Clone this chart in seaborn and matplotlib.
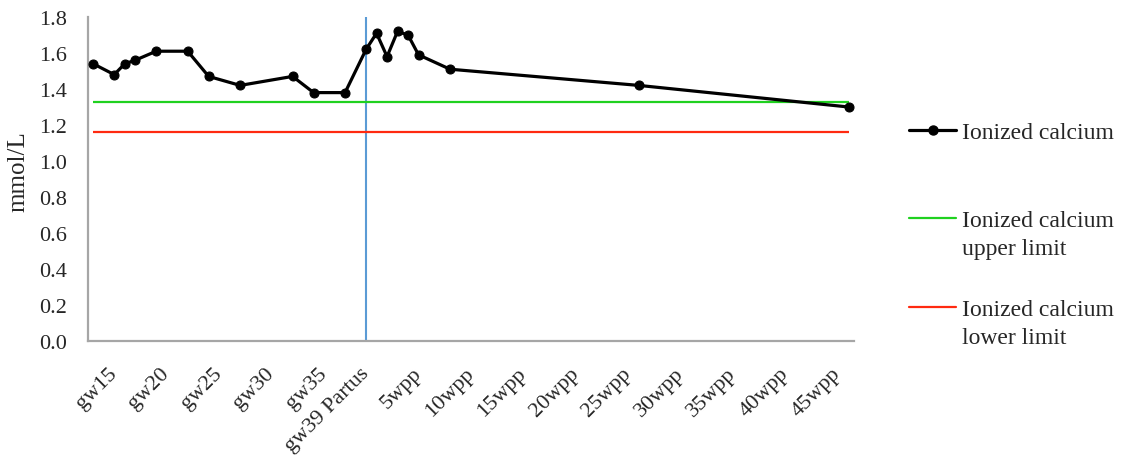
import matplotlib
matplotlib.use("Agg")
import matplotlib.pyplot as plt
import pandas as pd
import seaborn as sns
from matplotlib.lines import Line2D
from matplotlib.text import Annotation

# Timeline in weeks: gestational week during pregnancy, 39 + weeks post partum after birth
week = [13, 15, 16, 17, 19, 22, 24, 27, 32, 34, 37, 39, 40, 41, 42, 43, 44, 47, 65, 85]
ionized_ca = [1.54, 1.48, 1.54, 1.56, 1.61, 1.61, 1.47, 1.42, 1.47, 1.38, 1.38,
              1.62, 1.71, 1.58, 1.72, 1.70, 1.59, 1.51, 1.42, 1.30]
upper_limit = 1.33
lower_limit = 1.16
partus_week = 39

tick_weeks = [15, 20, 25, 30, 35, 39, 44, 49, 54, 59, 64, 69, 74, 79, 84]
tick_labels = ["gw15", "gw20", "gw25", "gw30", "gw35", "gw39 Partus", "5wpp", "10wpp",
               "15wpp", "20wpp", "25wpp", "30wpp", "35wpp", "40wpp", "45wpp"]
y_ticks = [0.0, 0.2, 0.4, 0.6, 0.8, 1.0, 1.2, 1.4, 1.6, 1.8]

series_label = "Ionized calcium"
upper_label = ("Ionized calcium", "upper limit")
lower_label = ("Ionized calcium", "lower limit")

CA_COLOR = "black"
UPPER_COLOR = "#1fd11f"
LOWER_COLOR = "#ff2a10"
PARTUS_COLOR = "#5b9bd5"
SPINE_COLOR = "#a6a6a6"

sns.set_theme(style="white")
plt.rcParams["font.family"] = ["Liberation Serif", "DejaVu Serif"]
FS = 16
LEG_FS = 17

df = pd.DataFrame({"week": week, "ca": ionized_ca})

fig, ax = plt.subplots(figsize=(11.21, 4.56), dpi=100)
fig.subplots_adjust(left=0.0785, right=0.7618, bottom=0.25, top=0.9605)

# reference range lines over the observed period
ax.hlines(upper_limit, week[0], week[-1], color=UPPER_COLOR, lw=1.6, zorder=2)
ax.hlines(lower_limit, week[0], week[-1], color=LOWER_COLOR, lw=1.6, zorder=2)

# delivery marker
ax.axvline(partus_week, color=PARTUS_COLOR, lw=1.5, zorder=1)

sns.lineplot(data=df, x="week", y="ca", ax=ax, color=CA_COLOR, lw=2.3,
             marker="o", markersize=6.5, markeredgecolor=CA_COLOR, zorder=3,
             legend=False)

ax.set_xlim(week[0] - 0.5, week[-1] + 0.5)
ax.set_ylim(0, 1.8)
ax.set_yticks(y_ticks)
ax.set_yticklabels([f"{v:.1f}" for v in y_ticks], fontsize=FS)
ax.set_xticks(tick_weeks)
ax.set_xticklabels(tick_labels, fontsize=FS, rotation=45, ha="right",
                   va="center", rotation_mode="anchor")
ax.tick_params(axis="x", length=0, pad=21)
ax.tick_params(axis="y", length=0, pad=15)
ax.set_xlabel("")
ax.set_ylabel("mmol/L", fontsize=18)
ax.yaxis.set_label_coords(-0.077, 0.526)

for side in ("top", "right"):
    ax.spines[side].set_visible(False)
for side in ("left", "bottom"):
    ax.spines[side].set_color(SPINE_COLOR)
    ax.spines[side].set_linewidth(1.6)

# legend entries at the right of the plot
entries = [
    (Line2D([], [], color=CA_COLOR, lw=2.3, marker="o", markersize=6.5), series_label, None, 0.7083),
    (Line2D([], [], color=UPPER_COLOR, lw=1.6), upper_label[0], upper_label[1], 0.5138),
    (Line2D([], [], color=LOWER_COLOR, lw=1.6), lower_label[0], lower_label[1], 0.3193),
]
legends = []
for handle, first, second, yc in entries:
    leg = fig.legend(handles=[handle], labels=[first], loc="center left",
                     bbox_to_anchor=(0.811, yc), frameon=False, fontsize=LEG_FS,
                     handlelength=2.0, handletextpad=0.25, borderpad=0,
                     borderaxespad=0)
    legends.append((leg, second))

fig.canvas.draw()
for leg, second in legends:
    if second:
        note = Annotation(second, xy=(0, 0), xycoords=leg.get_texts()[0],
                          xytext=(0, -5), textcoords="offset points",
                          ha="left", va="top", fontsize=LEG_FS)
        note.set_zorder(6)
        fig.add_artist(note)

fig.savefig("out.png", dpi=100)
